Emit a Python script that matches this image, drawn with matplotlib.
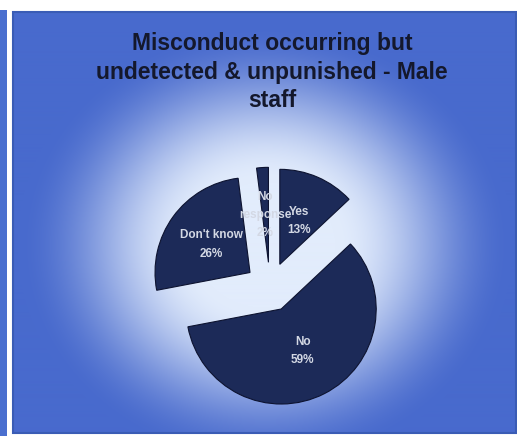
import numpy as np
import matplotlib.pyplot as plt
from matplotlib.patches import Rectangle

# survey answers (percent)
categories = ['Yes', 'No', "Don't know", 'No\nresponse']
shares = [13, 59, 26, 2]

title = 'Misconduct occurring but\nundetected & unpunished - Male\nstaff'

W, H = 517, 436
fig = plt.figure(figsize=(W / 100, H / 100), dpi=100)
fig.patch.set_facecolor('white')

# background layer in pixel coordinates
bg = fig.add_axes([0, 0, 1, 1])
bg.set_xlim(0, W)
bg.set_ylim(H, 0)
bg.axis('off')

# blue strip on the far left
bg.add_patch(Rectangle((0, 10), 7, H - 10, color='#4a6fcf', lw=0))

# panel with a soft radial glow behind the pie
x0, y0, x1, y1 = 13, 12, 516, 433
yy, xx = np.mgrid[y0:y1, x0:x1]
r = np.sqrt(((xx - 265) / 235.0) ** 2 + ((yy - 245) / 210.0) ** 2)
t = np.clip((r - 0.3) / 0.75, 0, 1)
t = t * t * (3 - 2 * t)
light = np.array([226, 236, 252]) / 255
dark = np.array([72, 106, 205]) / 255
img = light[None, None, :] * (1 - t[..., None]) + dark[None, None, :] * t[..., None]
bg.imshow(img, extent=(x0, x1, y1, y0), aspect='auto', interpolation='bilinear')
bg.add_patch(Rectangle((x0, y0), x1 - x0, y1 - y0, fill=False,
                       edgecolor='#3a5cb5', lw=1.5))

fig.text(272 / W, 1 - 72 / H, title, ha='center', va='center',
         fontsize=16.5, fontweight='bold', family='Liberation Sans',
         color='#14182c', linespacing=1.33)

# pie: radius 95 px centred near (270, 287)
R, cx, cy = 95, 270, 287
span = 3 * R
ax = fig.add_axes([(cx - span / 2) / W, (H - cy - span / 2) / H, span / W, span / H])
labels = [f'{c}\n{v}%' for c, v in zip(categories, shares)]
wedges, texts = ax.pie(shares, startangle=90, counterclock=False,
                       explode=[0.26] * len(shares),
                       colors=['#1c2a58'] * len(shares),
                       wedgeprops=dict(edgecolor='#0d1330', linewidth=0.8),
                       labels=labels, labeldistance=0.5,
                       textprops=dict(color='#d3d8e4', fontsize=8.5,
                                      fontweight='bold', ha='center',
                                      va='center', family='Liberation Sans',
                                      linespacing=1.7))
ax.set_xlim(-1.5, 1.5)
ax.set_ylim(-1.5, 1.5)
ax.axis('off')

fig.savefig('out.png', dpi=100)
